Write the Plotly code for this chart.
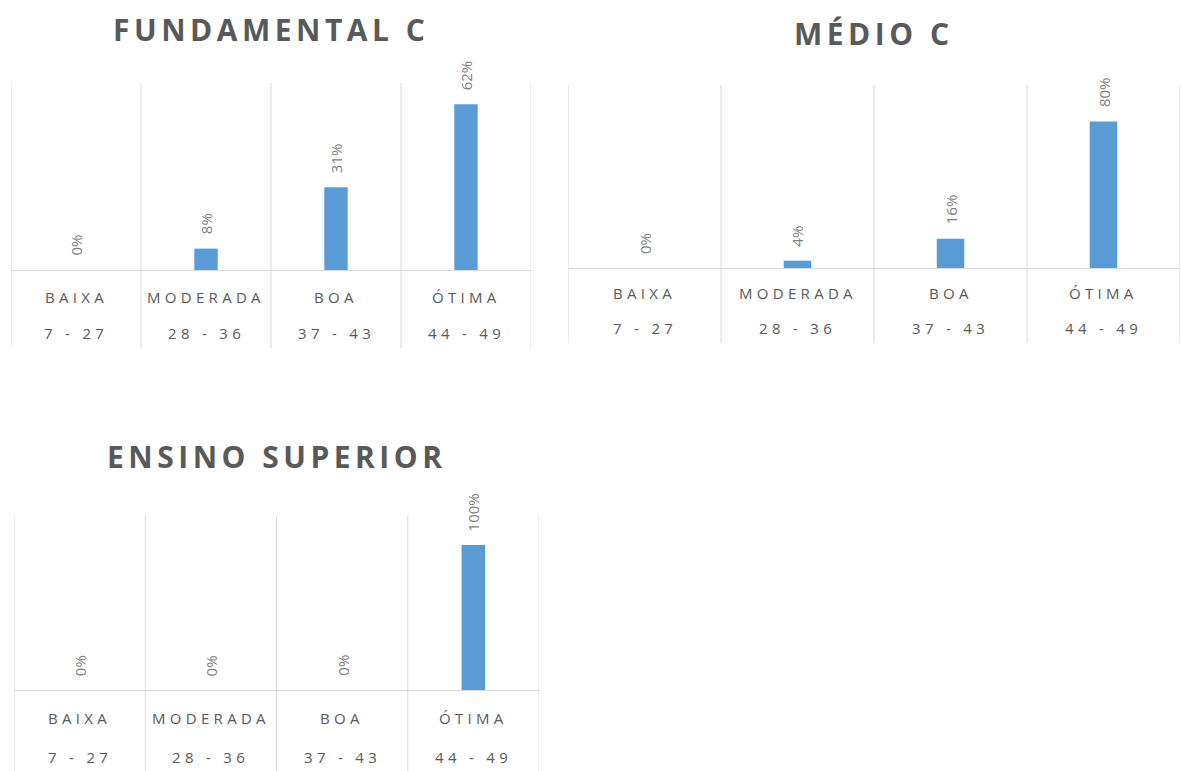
import plotly.graph_objects as go

categories = ["BAIXA", "MODERADA", "BOA", "ÓTIMA"]
ranges = ["7 - 27", "28 - 36", "37 - 43", "44 - 49"]
titles = ["FUNDAMENTAL C", "MÉDIO C", "ENSINO SUPERIOR"]
fundamental = [0, 8, 31, 62]
medio = [0, 4, 16, 80]
superior = [0, 0, 0, 100]
series = [fundamental, medio, superior]
y_max = [70, 100, 120]

W, H = 1181, 771
# pixel boxes: left, right, top, baseline, line extension below, label offsets, title offset
boxes = [
    dict(l=11, r=531, t=83, b=270, ext=78, l1=27, l2=63, tt=53),
    dict(l=568, r=1180, t=85, b=268, ext=75, l1=25, l2=60, tt=52),
    dict(l=14, r=539, t=516, b=690, ext=81, l1=28, l2=67, tt=60),
]

BAR = "#5B9BD5"
GRID = "#D9D9D9"
TXT = "#595959"
LBL = "#7F7F7F"
FONT = "Open Sans"

def spaced(s, px):
    return f'<span style="letter-spacing:{px}px">{s}</span>'

fig = go.Figure()
layout = dict(width=W, height=H, margin=dict(l=0, r=0, t=0, b=0), autosize=False,
              paper_bgcolor="white", plot_bgcolor="white", showlegend=False,
              font=dict(family=FONT, color=TXT))
shapes, annotations = [], []

for k, (vals, box) in enumerate(zip(series, boxes)):
    sfx = "" if k == 0 else str(k + 1)
    xa, ya = "x" + sfx, "y" + sfx
    fig.add_trace(go.Bar(x=categories, y=vals, xaxis=xa, yaxis=ya,
                         marker=dict(color=BAR, line=dict(width=0)), width=0.18,
                         hoverinfo="x+y"))
    plot_h = box["b"] - box["t"]
    layout["xaxis" + sfx] = dict(domain=[box["l"] / W, box["r"] / W], anchor=ya,
                                 type="category", range=[-0.5, 3.5], showticklabels=False,
                                 showgrid=False, zeroline=False, showline=True,
                                 linecolor=GRID, linewidth=1, ticks="", fixedrange=True)
    layout["yaxis" + sfx] = dict(domain=[(H - box["b"]) / H, (H - box["t"]) / H], anchor=xa,
                                 range=[0, y_max[k]], visible=False, fixedrange=True)
    ext = box["ext"] / plot_h
    for i in range(len(categories) + 1):
        shapes.append(dict(type="line", xref=xa, yref=ya + " domain",
                           x0=i - 0.5, x1=i - 0.5, y0=-ext, y1=1,
                           line=dict(color=GRID, width=1), layer="below"))
    for c, r, v in zip(categories, ranges, vals):
        annotations.append(dict(x=c, y=v, xref=xa, yref=ya, text=f"{v}%", textangle=-90,
                                showarrow=False, yanchor="bottom", xanchor="center", yshift=12,
                                font=dict(size=15, color=LBL, family=FONT)))
        annotations.append(dict(x=c, y=0, xref=xa, yref=ya + " domain", text=spaced(c, 4.3),
                                showarrow=False, yanchor="middle", xanchor="center",
                                yshift=-box["l1"], font=dict(size=15, color=TXT, family=FONT)))
        annotations.append(dict(x=c, y=0, xref=xa, yref=ya + " domain", text=spaced(r, 4.3),
                                showarrow=False, yanchor="middle", xanchor="center",
                                yshift=-box["l2"], font=dict(size=15, color=TXT, family=FONT)))
    annotations.append(dict(x=0.5, y=1, xref=xa + " domain", yref=ya + " domain",
                            text="<b>" + spaced(titles[k], 4.5) + "</b>", showarrow=False,
                            yanchor="middle", xanchor="center", yshift=box["tt"],
                            font=dict(size=30, color=TXT, family=FONT)))

layout["shapes"] = shapes
layout["annotations"] = annotations
fig.update_layout(**layout)
fig.write_html("out.html", config={"displayModeBar": False})
